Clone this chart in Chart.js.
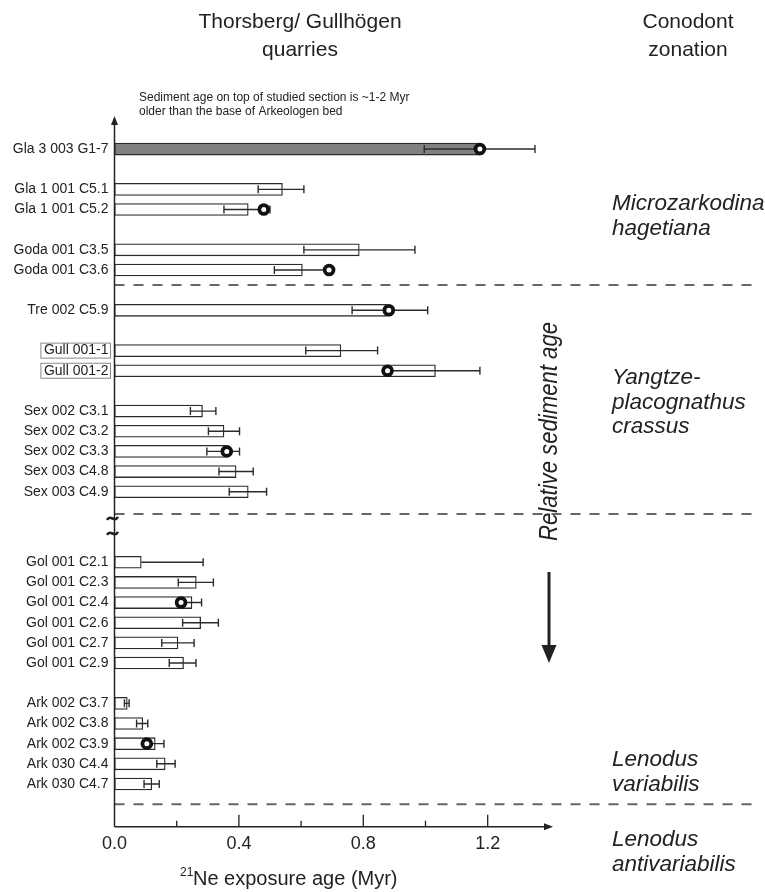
<!DOCTYPE html>
<html>
<head>
<meta charset="utf-8">
<script src="https://cdn.jsdelivr.net/npm/chart.js@4.4.1/dist/chart.umd.min.js"></script>
<style>
  html, body { margin: 0; padding: 0; background: #fff; }
  #wrap { width: 765px; height: 892px; position: relative; }
</style>
</head>
<body>
<div id="wrap"><canvas id="neChart"></canvas></div>
<script>
// ===== 21Ne EXPOSURE AGES, THORSBERG / GULLHÖGEN =====

// samples from top (youngest sediment) to bottom
const samples = [
  "Gla 3 003 G1-7",
  "Gla 1 001 C5.1", "Gla 1 001 C5.2",
  "Goda 001 C3.5", "Goda 001 C3.6",
  "Tre 002 C5.9",
  "Gull 001-1", "Gull 001-2",
  "Sex 002 C3.1", "Sex 002 C3.2", "Sex 002 C3.3", "Sex 003 C4.8", "Sex 003 C4.9",
  "Gol 001 C2.1", "Gol 001 C2.3", "Gol 001 C2.4", "Gol 001 C2.6", "Gol 001 C2.7", "Gol 001 C2.9",
  "Ark 002 C3.7", "Ark 002 C3.8", "Ark 002 C3.9", "Ark 030 C4.4", "Ark 030 C4.7"
];
const groupSizes = [1, 2, 2, 1, 2, 5, 6, 5];
const groupGaps = [2, 2, 2, 2, 2, 3.5, 2];   // in rows, last one is the axis break

const ages = [
  1.175,
  0.54, 0.43,
  0.787, 0.604,
  0.875,
  0.728, 1.032,
  0.283, 0.352, 0.355, 0.391, 0.43,
  0.086, 0.263, 0.249, 0.277, 0.204, 0.222,
  0.041, 0.091, 0.131, 0.163, 0.12
];
const errLow = [
  0.996,
  0.462, 0.352,
  0.609, 0.514,
  0.764,
  0.615, 0.889,
  0.244, 0.302, 0.297, 0.336, 0.369,
  null, 0.205, 0.218, 0.219, 0.152, 0.176,
  0.032, 0.071, 0.103, 0.136, 0.095
];
const errHigh = [
  1.352,
  0.609, 0.50,
  0.966, 0.694,
  1.007,
  0.846, 1.175,
  0.326, 0.402, 0.402, 0.446, 0.489,
  0.285, 0.318, 0.28, 0.334, 0.256, 0.262,
  0.047, 0.107, 0.159, 0.195, 0.144
];
// open circles
const circleAge = [
  1.175,
  null, 0.48,
  null, 0.69,
  0.882,
  null, 0.878,
  null, null, 0.361, null, null,
  null, null, 0.214, null, null, null,
  null, null, 0.104, null, null
];
const boxedSamples = ["Gull 001-1", "Gull 001-2"];
const shadedSamples = ["Gla 3 003 G1-7"];

const zoneBounds = [6.75, 18.1, 32.5];
const zoneNames = [
  ["Microzarkodina", "hagetiana"],
  ["Yangtze-", "placognathus", "crassus"],
  ["Lenodus", "variabilis"],
  ["Lenodus", "antivariabilis"]
];
const zoneTextTop = [210, 384, 766, 846];

const xMajor = [0, 0.4, 0.8, 1.2];
const xMinor = [0.2, 0.6, 1.0];

const FONT = '"Liberation Sans", Arial, sans-serif';
const INK = "#222";

// row position of each sample on the y scale
const rows = [];
let pos = 0;
groupSizes.forEach((n, g) => {
  for (let i = 0; i < n; i++) { rows.push(pos); pos += 1; }
  pos += (groupGaps[g] || 1) - 1;
});

function tilde(ctx, cx, cy) {
  ctx.beginPath();
  ctx.moveTo(cx - 5.5, cy + 1.5);
  ctx.bezierCurveTo(cx - 2, cy - 5, cx + 2, cy + 5, cx + 5.5, cy - 1.5);
  ctx.stroke();
}

const decorPlugin = {
  id: "decor",
  // error bars go over the bars but under the circles
  afterDatasetDraw(chart, args) {
    if (args.index !== 0) return;
    const { ctx, scales: { x, y } } = chart;
    ctx.save();
    ctx.strokeStyle = "#2b2b2b";
    ctx.lineWidth = 1.4;
    samples.forEach((s, i) => {
      const py = y.getPixelForValue(rows[i]);
      const lo = errLow[i] == null ? ages[i] : errLow[i];
      const x0 = x.getPixelForValue(lo);
      const x1 = x.getPixelForValue(errHigh[i]);
      ctx.beginPath();
      ctx.moveTo(x0, py); ctx.lineTo(x1, py);
      if (errLow[i] != null) { ctx.moveTo(x0, py - 4); ctx.lineTo(x0, py + 4); }
      ctx.moveTo(x1, py - 4); ctx.lineTo(x1, py + 4);
      ctx.stroke();
    });
    ctx.restore();
  },
  afterDraw(chart) {
    const { ctx, chartArea: a, scales: { x, y } } = chart;
    ctx.save();
    ctx.fillStyle = INK;
    ctx.strokeStyle = INK;

    // headings
    ctx.font = "21px " + FONT;
    ctx.textAlign = "center";
    ctx.textBaseline = "middle";
    ctx.fillText("Thorsberg/ Gullhögen", 300, 22);
    ctx.fillText("quarries", 300, 50);
    ctx.fillText("Conodont", 688, 22);
    ctx.fillText("zonation", 688, 50);

    ctx.font = "12px " + FONT;
    ctx.textAlign = "left";
    ctx.fillText("Sediment age on top of studied section is ~1-2 Myr", 139, 98);
    ctx.fillText("older than the base of Arkeologen bed", 139, 112);

    // zone boundaries
    ctx.save();
    ctx.strokeStyle = "#666";
    ctx.lineWidth = 2;
    ctx.setLineDash([10, 9]);
    zoneBounds.forEach(v => {
      const py = y.getPixelForValue(v);
      ctx.beginPath();
      ctx.moveTo(a.left, py); ctx.lineTo(758, py);
      ctx.stroke();
    });
    ctx.restore();

    // axes with arrow heads
    ctx.lineWidth = 1.5;
    ctx.beginPath();
    ctx.moveTo(a.left, a.bottom); ctx.lineTo(a.left, a.top + 6);
    ctx.moveTo(a.left, a.bottom); ctx.lineTo(a.right - 6, a.bottom);
    ctx.stroke();
    ctx.beginPath();
    ctx.moveTo(a.left, a.top); ctx.lineTo(a.left - 3.5, a.top + 9); ctx.lineTo(a.left + 3.5, a.top + 9);
    ctx.closePath(); ctx.fill();
    ctx.beginPath();
    ctx.moveTo(a.right, a.bottom); ctx.lineTo(a.right - 9, a.bottom - 3.5); ctx.lineTo(a.right - 9, a.bottom + 3.5);
    ctx.closePath(); ctx.fill();

    // inward ticks
    ctx.lineWidth = 1.3;
    ctx.beginPath();
    xMajor.filter(v => v > 0).forEach(v => {
      const px = x.getPixelForValue(v);
      ctx.moveTo(px, a.bottom); ctx.lineTo(px, a.bottom - 12);
    });
    xMinor.forEach(v => {
      const px = x.getPixelForValue(v);
      ctx.moveTo(px, a.bottom); ctx.lineTo(px, a.bottom - 6);
    });
    ctx.stroke();

    // axis break
    const by = y.getPixelForValue(18.7);
    ctx.lineWidth = 2.6;
    tilde(ctx, a.left - 2, by - 7.5);
    tilde(ctx, a.left - 2, by + 7.5);

    // x title with superscript
    ctx.textAlign = "left";
    ctx.textBaseline = "alphabetic";
    ctx.font = "12px " + FONT;
    ctx.fillText("21", 180, 876);
    ctx.font = "20px " + FONT;
    ctx.fillText("Ne exposure age (Myr)", 193, 885);

    // boxed sample labels
    ctx.strokeStyle = "#888";
    ctx.lineWidth = 1;
    ctx.font = "14px " + FONT;
    boxedSamples.forEach(s => {
      const i = samples.indexOf(s);
      const py = y.getPixelForValue(rows[i]);
      const w = ctx.measureText(s).width;
      const right = a.left - 5;
      ctx.strokeRect(right - w - 4, py - 7.5, w + 5, 15);
    });

    // relative sediment age
    ctx.save();
    ctx.translate(557, 431.5);
    ctx.rotate(-Math.PI / 2);
    ctx.font = 'italic 25px "Liberation Sans Narrow", ' + FONT;
    const tw = ctx.measureText("Relative sediment age").width;
    ctx.scale(219 / tw, 1);
    ctx.textAlign = "center";
    ctx.fillText("Relative sediment age", 0, 0);
    ctx.restore();

    ctx.lineWidth = 3;
    ctx.strokeStyle = INK;
    ctx.beginPath();
    ctx.moveTo(549, 572); ctx.lineTo(549, 648);
    ctx.stroke();
    ctx.beginPath();
    ctx.moveTo(541.5, 645); ctx.lineTo(556.5, 645); ctx.lineTo(549, 663);
    ctx.closePath(); ctx.fill();

    // conodont zones
    ctx.font = "italic 22.5px " + FONT;
    ctx.textAlign = "left";
    zoneNames.forEach((lines, z) => {
      lines.forEach((t, k) => ctx.fillText(t, 612, zoneTextTop[z] + k * 24.5));
    });

    ctx.restore();
  }
};

const ctx = document.getElementById("neChart").getContext("2d");

new Chart(ctx, {
  type: "bar",
  data: {
    datasets: [
      {
        type: "bar",
        data: samples.map((s, i) => ({ x: ages[i], y: rows[i] })),
        backgroundColor: samples.map(s => shadedSamples.includes(s) ? "#808080" : "#ffffff"),
        borderColor: "#2b2b2b",
        borderWidth: 1.3,
        borderSkipped: false,
        barThickness: 12,
        order: 2
      },
      {
        type: "scatter",
        data: samples.map((s, i) => circleAge[i] == null ? null : { x: circleAge[i], y: rows[i] })
                     .filter(p => p !== null),
        pointRadius: 4.4,
        pointBorderWidth: 3.8,
        pointBackgroundColor: "#ffffff",
        pointBorderColor: "#111",
        order: 1
      }
    ]
  },
  options: {
    indexAxis: "y",
    responsive: true,
    maintainAspectRatio: false,
    animation: false,
    events: [],
    layout: { padding: { top: 116, right: 212, bottom: 0, left: 0 } },
    plugins: {
      legend: { display: false },
      tooltip: { enabled: false }
    },
    scales: {
      x: {
        type: "linear",
        min: 0,
        max: 1.41,
        offset: false,
        grid: { display: false, drawTicks: false, tickLength: 0 },
        border: { display: false },
        afterBuildTicks: sc => { sc.ticks = xMajor.map(v => ({ value: v })); },
        afterFit: sc => { sc.height = 892 - 826.7; },
        ticks: {
          autoSkip: false,
          maxRotation: 0,
          padding: 7,
          color: INK,
          font: { size: 18, family: FONT },
          callback: v => Number(v).toFixed(1)
        }
      },
      y: {
        type: "linear",
        reverse: true,
        offset: false,
        min: -1.64,
        max: 33.62,
        grid: { display: false, drawTicks: false, tickLength: 0 },
        border: { display: false },
        afterBuildTicks: sc => { sc.ticks = rows.map(v => ({ value: v })); },
        afterFit: sc => { sc.width = 114.5; },
        ticks: {
          autoSkip: false,
          padding: 6,
          color: INK,
          font: { size: 14, family: FONT },
          callback: v => samples[rows.indexOf(v)]
        }
      }
    }
  },
  plugins: [decorPlugin]
});
</script>
</body>
</html>
